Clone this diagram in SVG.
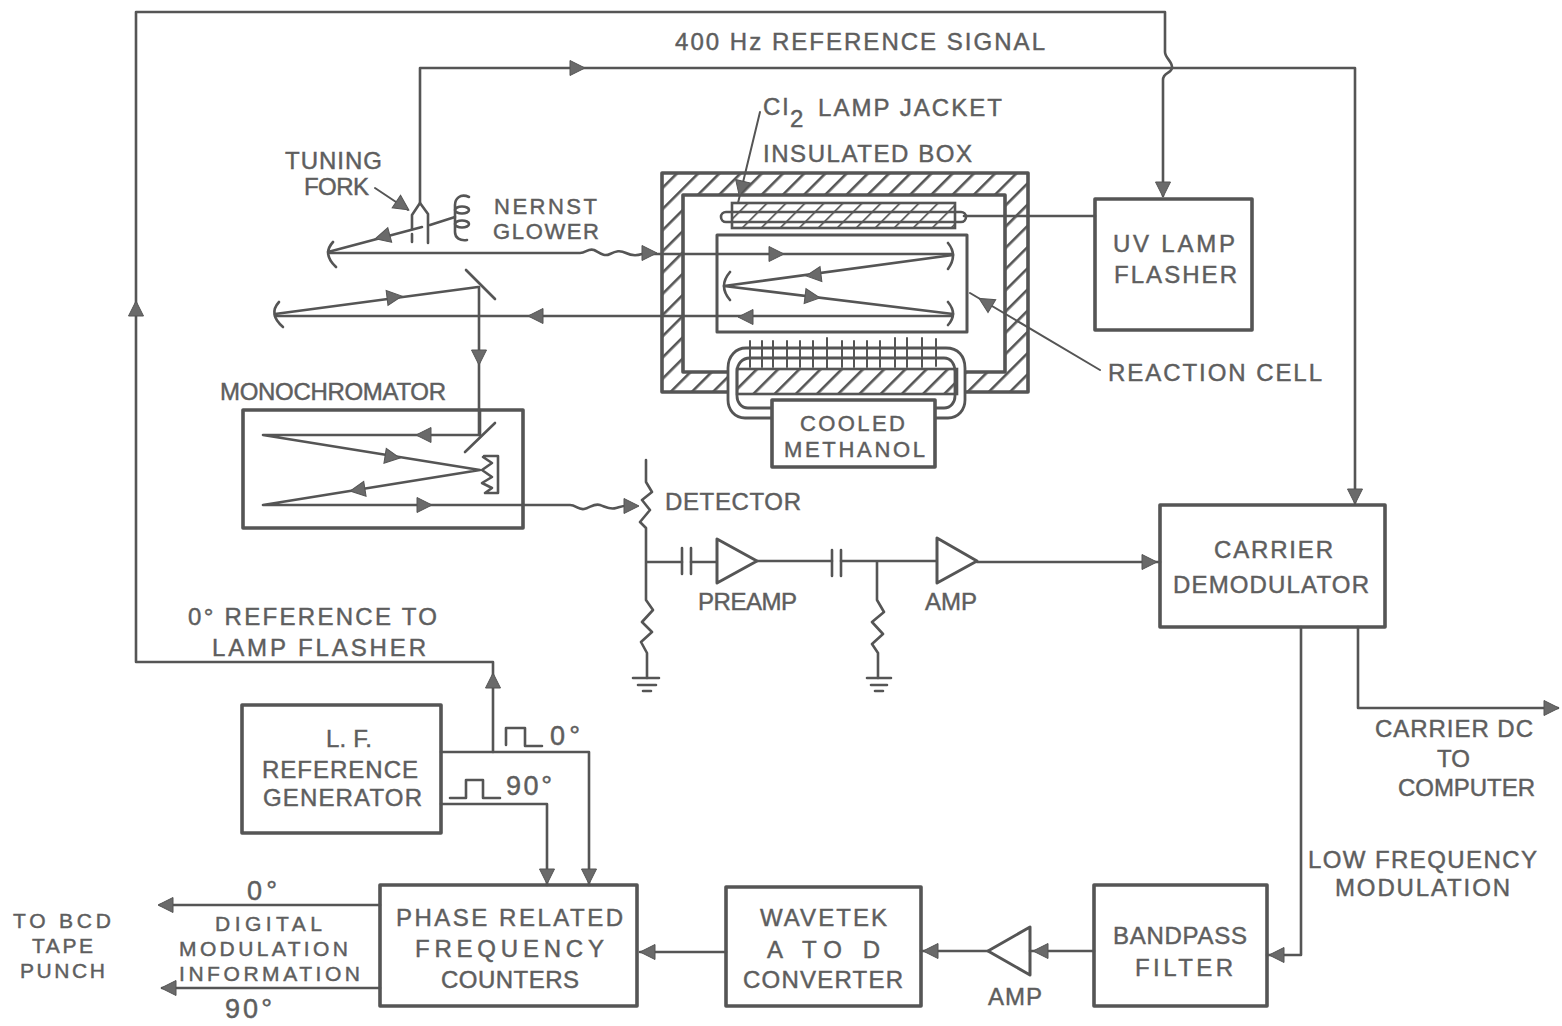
<svg xmlns="http://www.w3.org/2000/svg" width="1562" height="1026" viewBox="0 0 1562 1026">
<style>
text{font-family:"Liberation Sans",Arial,sans-serif;font-size:24px;fill:#5e5e5e;stroke:#5e5e5e;stroke-width:.45}
.s{font-size:21px}
.m{font-size:22px}
.d{font-size:27px}
.l{fill:none;stroke:#555;stroke-width:2.6;stroke-linejoin:round;stroke-linecap:round}
.t{stroke-width:2}
.b{fill:#fff;stroke:#555;stroke-width:3.6;stroke-linejoin:round}
.a{fill:#6a6a6a;stroke:#555;stroke-width:1}
.w{fill:#fff;stroke:#555;stroke-width:3;stroke-linejoin:round}
</style>
<defs>
<path id="ah" d="M-8 -7.5L7 0L-8 7.5Z"/>
<pattern id="hatch" width="15" height="15" patternUnits="userSpaceOnUse" patternTransform="rotate(45)">
<rect width="15" height="15" fill="#fff"/><rect width="2.6" height="15" fill="#555"/>
</pattern>
<pattern id="hatch2" width="19" height="5" patternUnits="userSpaceOnUse" patternTransform="skewX(-45)">
<rect width="19" height="5" fill="#fff"/><rect width="2.4" height="5" fill="#555"/>
</pattern>
</defs>
<rect width="1562" height="1026" fill="#fff"/>

<g id="insulated-box">
<path d="M662 173H1028V392H662ZM683 195V372H1005V195Z" fill="url(#hatch)" fill-rule="evenodd" stroke="#555" stroke-width="3.6" stroke-linejoin="round"/>
</g>

<g id="reaction-cell">
<rect class="l" x="717" y="235" width="250" height="97" style="stroke-width:3"/>
<path class="l" d="M948 243Q958 255 948 269M730 272Q718 286 730 300M948 302Q958 314 948 325"/>
</g>

<g id="lamp-jacket">
<rect x="732" y="203" width="223" height="25" fill="url(#hatch2)" stroke="#555" stroke-width="2.6"/>
<rect x="721" y="212" width="245" height="10" rx="5" fill="none" stroke="#555" stroke-width="2.6"/>
</g>

<g id="coolant-loop">
<path d="M772 418H745C735 418 728 410 728 400V368C728 356 736 348 746 348H946C958 348 965 356 965 368V400C965 410 958 418 948 418H935V394H772Z" fill="#fff"/>
<rect x="737" y="369" width="220" height="25" fill="url(#hatch)" stroke="#555" stroke-width="2.6"/>
<path d="M772 418H745C735 418 728 410 728 400V368C728 356 736 348 746 348H946C958 348 965 356 965 368V400C965 410 958 418 948 418H935" fill="none" stroke="#555" stroke-width="2.8"/>
<path d="M772 408H748C741 408 737 402 737 396V372C737 364 742 358 750 358H944C951 358 955 364 955 372V396C955 402 951 408 944 408H935" fill="none" stroke="#555" stroke-width="2.8"/>
<path class="l t" d="M750 341V367M762 341V367M773 341V367M787 341V367M800 341V367M813 341V367M827 338V368M842 341V367M854 341V367M867 341V367M880 341V367M895 338V367M907 338V367M922 338V367M936 339V366"/>
</g>

<g id="tuning-fork">
<path class="l" d="M420 203L412 215V229M412 234V242M420 203L428 214V243"/>
</g>
<g id="nernst-glower">
<path class="l" d="M469 197C460 193 455 199 455 205V232C455 238 460 241 467 240"/>
<ellipse class="l" cx="462" cy="210" rx="7" ry="3.5"/>
<ellipse class="l" cx="462" cy="224" rx="7" ry="3.5"/>
</g>
<g id="mirrors">
<path class="l" d="M333 242Q322 254 336 267"/>
<path class="l" d="M279 302Q268 314 283 327"/>
<path class="l" d="M466 270L495 299"/>
</g>

<g id="monochromator">
<rect class="b" x="243" y="410" width="280" height="118"/>
<path class="l" d="M465 452L495 423"/>
<path class="l" d="M483 457L492 463L482 470L492 477L482 483L492 488L485 493H498V456H484"/>
</g>

<g id="detector-circuit">
<path class="l" d="M646 460V482L652 492L642 500L650 510L640 522L646 528V600L653 610L642 622L652 632L641 642L647 653V678"/>
<path class="l" d="M647 562H682M691 562H717M757 561H832M841 561H937M877 561V600L884 612L872 622L883 634L872 644L878 653V678"/>
<path class="l" d="M682 548V574M691 548V574M832 550V576M841 550V576"/>
<path class="l" d="M633 678H659M638 685H656M643 691H651M867 678H891M871 685H887M875 691H883"/>
</g>
<g id="preamp"><path class="w" d="M717 539V583L757 561Z"/></g>
<g id="amp1"><path class="w" d="M937 538V583L977 561Z"/></g>
<g id="amp2"><path class="w" d="M1030 927V975L988 951Z"/></g>
<g id="pulses">
<path class="l" d="M506 745V728H525V746H542"/>
<path class="l" d="M450 798H466V780H483V798H500"/>
</g>

<g id="cooled-methanol"><rect class="b" x="772" y="400" width="163" height="67"/></g>
<g id="uv-lamp-flasher"><rect class="b" x="1095" y="199" width="157" height="131"/></g>
<g id="carrier-demodulator"><rect class="b" x="1160" y="505" width="225" height="122"/></g>
<g id="lf-generator"><rect class="b" x="242" y="705" width="199" height="128"/></g>
<g id="phase-counters"><rect class="b" x="380" y="885" width="257" height="121"/></g>
<g id="wavetek"><rect class="b" x="726" y="887" width="195" height="119"/></g>
<g id="bandpass"><rect class="b" x="1094" y="885" width="173" height="121"/></g>

<g id="connectors">
<path class="l" d="M493 752V662H136V12H1165V52C1165 58 1173 62 1172 68C1171 74 1163 72 1163 80V196"/>
<path class="l" d="M420 203V68H1355V503"/>
<path class="l" d="M1095 216H964"/>
<path class="l" d="M441 752H589V885"/>
<path class="l" d="M441 804H547V885"/>
<path class="l" d="M726 952H640"/>
<path class="l" d="M380 905H160"/>
<path class="l" d="M380 988H162"/>
<path class="l" d="M1094 951H1030"/>
<path class="l" d="M988 951H921"/>
<path class="l" d="M1301 627V955H1267"/>
<path class="l" d="M1358 627V708H1558"/>
<path class="l" d="M977 562H1160"/>
<path class="l" d="M330 253H580C586 253 588 248 594 250C600 253 604 257 610 254C616 251 620 250 626 253C630 255 636 256 642 254H953"/>
<path class="l" d="M480 410V435H263L480 470L263 505H570C576 505 578 510 584 509C590 508 594 503 600 505C606 507 610 510 616 508C620 507 624 505 630 506"/>
<path class="l" d="M275 316H952"/>
<path class="l" d="M275 314L478 287"/>
<path class="l" d="M479 287V435"/>
<path class="l" d="M328 252L422 227M430 225L455 217"/>
<path class="l" d="M953 255L724 286L953 314"/>
<path class="l t" d="M1100 370L970 293"/>
<path class="l t" d="M760 112L738 203"/>
<path class="l t" d="M375 188L408 210"/>
<g class="a">
<use href="#ah" transform="translate(578 68)"/>
<use href="#ah" transform="translate(1163 190) rotate(90)"/>
<use href="#ah" transform="translate(1355 497) rotate(90)"/>
<use href="#ah" transform="translate(136 308) rotate(-90)"/>
<use href="#ah" transform="translate(493 680) rotate(-90)"/>
<use href="#ah" transform="translate(547 877) rotate(90)"/>
<use href="#ah" transform="translate(589 877) rotate(90)"/>
<use href="#ah" transform="translate(647 952) rotate(180)"/>
<use href="#ah" transform="translate(165 905) rotate(180)"/>
<use href="#ah" transform="translate(168 988) rotate(180)"/>
<use href="#ah" transform="translate(1040 951) rotate(180)"/>
<use href="#ah" transform="translate(930 951) rotate(180)"/>
<use href="#ah" transform="translate(1276 955) rotate(180)"/>
<use href="#ah" transform="translate(1552 708)"/>
<use href="#ah" transform="translate(1150 562)"/>
<use href="#ah" transform="translate(650 253)"/>
<use href="#ah" transform="translate(632 506)"/>
<use href="#ah" transform="translate(382 237) rotate(165)"/>
<use href="#ah" transform="translate(395 297) rotate(-7)"/>
<use href="#ah" transform="translate(535 316) rotate(180)"/>
<use href="#ah" transform="translate(479 358) rotate(90)"/>
<use href="#ah" transform="translate(777 254)"/>
<use href="#ah" transform="translate(745 317) rotate(180)"/>
<use href="#ah" transform="translate(813 275) rotate(173)"/>
<use href="#ah" transform="translate(813 297) rotate(7)"/>
<use href="#ah" transform="translate(985 302) rotate(211)"/>
<use href="#ah" transform="translate(741 189) rotate(104)"/>
<use href="#ah" transform="translate(403 206) rotate(34)"/>
<use href="#ah" transform="translate(423 435) rotate(180)"/>
<use href="#ah" transform="translate(393 457) rotate(9)"/>
<use href="#ah" transform="translate(357 490) rotate(171)"/>
<use href="#ah" transform="translate(425 505)"/>
</g>
</g>

<g id="labels">
<text x="675" y="50" textLength="370">400 Hz REFERENCE SIGNAL</text>
<text x="763" y="115" textLength="25">Cl</text>
<text x="790" y="127" textLength="16">2</text>
<text x="818" y="116" textLength="184">LAMP JACKET</text>
<text x="763" y="162" textLength="209">INSULATED BOX</text>
<text x="285" y="169" textLength="97">TUNING</text>
<text x="304" y="195" textLength="65">FORK</text>
<text class="m" x="494" y="214" textLength="103">NERNST</text>
<text class="m" x="493" y="239" textLength="106">GLOWER</text>
<text x="1113" y="252" textLength="122">UV LAMP</text>
<text x="1114" y="283" textLength="123">FLASHER</text>
<text x="1108" y="381" textLength="214">REACTION CELL</text>
<text x="220" y="400" textLength="226">MONOCHROMATOR</text>
<text class="m" x="800" y="431" textLength="105">COOLED</text>
<text class="m" x="784" y="457" textLength="141">METHANOL</text>
<text x="665" y="510" textLength="136">DETECTOR</text>
<text x="698" y="610" textLength="99">PREAMP</text>
<text x="925" y="610" textLength="52">AMP</text>
<text x="1214" y="558" textLength="119">CARRIER</text>
<text x="1173" y="593" textLength="196">DEMODULATOR</text>
<text x="188" y="625" textLength="249">0° REFERENCE TO</text>
<text x="212" y="656" textLength="214">LAMP FLASHER</text>
<text x="326" y="747" textLength="46">L. F.</text>
<text x="262" y="778" textLength="156">REFERENCE</text>
<text x="263" y="806" textLength="159">GENERATOR</text>
<text class="d" x="550" y="745" textLength="30">0°</text>
<text class="d" x="506" y="795" textLength="46">90°</text>
<text x="1375" y="737" textLength="158">CARRIER DC</text>
<text x="1437" y="767" textLength="33">TO</text>
<text x="1398" y="796" textLength="137">COMPUTER</text>
<text x="1308" y="868" textLength="229">LOW FREQUENCY</text>
<text x="1335" y="896" textLength="175">MODULATION</text>
<text x="396" y="926" textLength="227">PHASE RELATED</text>
<text x="415" y="957" textLength="189">FREQUENCY</text>
<text x="441" y="988" textLength="138">COUNTERS</text>
<text x="760" y="926" textLength="127">WAVETEK</text>
<text x="767" y="958" textLength="113">A TO D</text>
<text x="743" y="988" textLength="160">CONVERTER</text>
<text x="1113" y="944" textLength="134">BANDPASS</text>
<text x="1135" y="976" textLength="98">FILTER</text>
<text x="988" y="1005" textLength="54">AMP</text>
<text class="s" x="13" y="928" textLength="98">TO BCD</text>
<text class="s" x="32" y="953" textLength="61">TAPE</text>
<text class="s" x="20" y="978" textLength="85">PUNCH</text>
<text class="d" x="247" y="900" textLength="30">0°</text>
<text class="s" x="215" y="931" textLength="107">DIGITAL</text>
<text class="s" x="179" y="956" textLength="169">MODULATION</text>
<text class="s" x="179" y="981" textLength="181">INFORMATION</text>
<text class="d" x="225" y="1018" textLength="47">90°</text>
</g>
</svg>
